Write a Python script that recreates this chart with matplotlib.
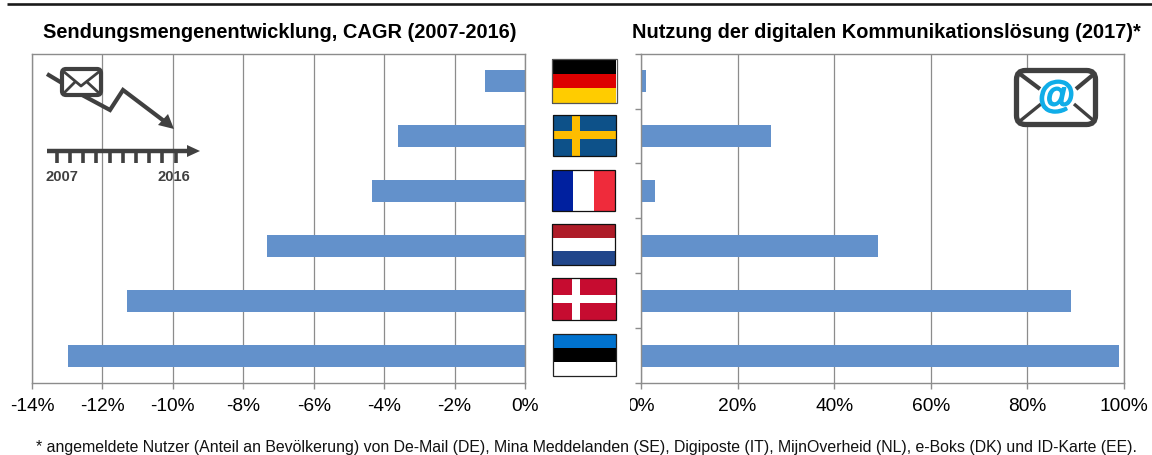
import matplotlib
matplotlib.use("Agg")
import matplotlib.pyplot as plt
import matplotlib.patheffects as pe
from matplotlib.patches import Rectangle, FancyBboxPatch, Polygon

plt.rcParams["font.family"] = ["Liberation Sans", "DejaVu Sans"]

# data
countries = ["DE", "SE", "FR", "NL", "DK", "EE"]
cagr = [-1.13, -3.6, -4.35, -7.33, -11.3, -12.97]
usage = [1, 27, 3, 49, 89, 99]
cagr_ticks = [-14, -12, -10, -8, -6, -4, -2, 0]
usage_ticks = [0, 20, 40, 60, 80, 100]

title_left = "Sendungsmengenentwicklung, CAGR (2007-2016)"
title_right = "Nutzung der digitalen Kommunikationslösung (2017)*"
footnote = ("* angemeldete Nutzer (Anteil an Bevölkerung) von De-Mail (DE), Mina Meddelanden (SE), "
            "Digiposte (IT), MijnOverheid (NL), e-Boks (DK) und ID-Karte (EE).")

W, H = 1152, 456
BAR = "#6391cb"
GRID = "#8c8c8c"
DARK = "#404040"

fig = plt.figure(figsize=(W / 100, H / 100), dpi=100)


def px_axes(x0, x1, y0, y1):
    return fig.add_axes([x0 / W, 1 - y1 / H, (x1 - x0) / W, (y1 - y0) / H])


def style(ax):
    for s in ax.spines.values():
        s.set_color(GRID)
        s.set_linewidth(1.0)
    ax.set_ylim(6, 0)
    ax.grid(axis="x", color=GRID, linewidth=0.9)
    ax.set_axisbelow(True)
    ax.tick_params(axis="x", length=4, width=1.0, color=GRID, labelsize=13.8, pad=6, labelcolor="black")


pos = [i + 0.5 for i in range(len(countries))]

left = px_axes(32, 525, 54.7, 384)
left.barh(pos, cagr, height=0.4, color=BAR)
left.set_xlim(-14, 0)
style(left)
left.set_xticks(cagr_ticks)
left.set_xticklabels([f"{v}%" for v in cagr_ticks])
left.set_yticks([])

right = px_axes(641, 1124, 54.7, 384)
right.barh(pos, usage, height=0.4, color=BAR)
right.set_xlim(0, 100)
style(right)
right.set_xticks(usage_ticks)
right.set_xticklabels([f"{v}%" for v in usage_ticks])
right.set_yticks(range(7))
right.set_yticklabels([])
right.tick_params(axis="y", length=4, width=1.0, color=GRID)

# overlay in pixel coordinates for titles, flags and icons
ov = fig.add_axes([0, 0, 1, 1], zorder=5)
ov.set_xlim(0, W)
ov.set_ylim(H, 0)
ov.axis("off")
ov.patch.set_alpha(0)

ov.plot([7, W], [5, 5], color="#1a1a1a", lw=1.9, solid_capstyle="butt")
ov.text(280, 32, title_left, ha="center", va="center", fontsize=14.4, fontweight="bold")
ov.text(886.5, 32, title_right, ha="center", va="center", fontsize=14.4, fontweight="bold")
ov.text(586, 447.5, footnote, ha="center", va="center", fontsize=11.42, color="#111111")

# the first label of the right axis is cut off on its left side
ov.add_patch(Rectangle((620, 393), 10, 24, fc="white", ec="none"))


def rect(x, y, w, h, c):
    ov.add_patch(Rectangle((x, y), w, h, fc=c, ec="none"))


def frame(x, y, w, h, c="#111111"):
    ov.add_patch(Rectangle((x, y), w, h, fc="none", ec=c, lw=0.9))


# Germany
rect(552, 60, 64, 45, "black")
rect(552, 75, 64, 14, "#dd0000")
rect(552, 89, 64, 14.5, "#ffcc00")
frame(551.5, 60, 65, 43.5, "#555555")
# Sweden
rect(552.5, 115.5, 63, 41, "#0d5189")
rect(572, 115.5, 8, 41, "#fdbd00")
rect(552.5, 132, 63, 8, "#fdbd00")
frame(552.5, 115.5, 63, 41)
# France
rect(551.5, 170.5, 21, 41, "#00209f")
rect(572.5, 170.5, 21, 41, "white")
rect(593.5, 170.5, 21, 41, "#ef2b3b")
frame(551.5, 170.5, 63, 41)
# Netherlands
rect(551.5, 224.5, 63, 14, "#ae1c28")
rect(551.5, 238.5, 63, 13, "white")
rect(551.5, 251.5, 63, 14, "#21468b")
frame(551.5, 224.5, 63, 41)
# Denmark
rect(551.5, 278.5, 64, 42, "#c60c30")
rect(571.5, 278.5, 8, 42, "white")
rect(551.5, 296, 64, 7.5, "white")
frame(551.5, 278.5, 64, 42)
# Estonia
rect(552.5, 334.5, 63, 14, "#0072ce")
rect(552.5, 348.5, 63, 14, "black")
rect(552.5, 362.5, 63, 14, "white")
frame(552.5, 334.5, 63, 42, "#222222")

# falling volume icon
ov.plot([47, 62], [75, 84], color=DARK, lw=3, solid_capstyle="butt")
ov.plot([84, 110, 123, 164], [97, 111, 91, 122], color=DARK, lw=3, solid_joinstyle="miter")
ov.add_patch(Polygon([[174, 130], [158, 126], [168, 115]], fc=DARK, ec="none"))
ov.add_patch(FancyBboxPatch((62, 70), 39, 26, boxstyle="round,pad=0,rounding_size=4",
                            fc="white", ec=DARK, lw=3))
ov.plot([63, 81, 100], [72, 87, 72], color=DARK, lw=2)
ov.plot([64, 75], [94, 83], color=DARK, lw=2)
ov.plot([99, 87], [94, 83], color=DARK, lw=2)

# timeline
ov.plot([47, 188], [152, 152], color=DARK, lw=3.2, solid_capstyle="butt")
ov.add_patch(Polygon([[200, 152], [187, 146], [187, 158]], fc=DARK, ec="none"))
for i in range(10):
    x = 56.7 + i * 13.2
    ov.plot([x, x], [152, 164], color=DARK, lw=2.6, solid_capstyle="butt")
ov.text(46, 177, "2007", ha="left", va="center", fontsize=10.6, fontweight="bold", color=DARK)
ov.text(157, 177, "2016", ha="left", va="center", fontsize=10.6, fontweight="bold", color=DARK)

# e-mail icon
ov.add_patch(FancyBboxPatch((1016.5, 71.5), 79, 54, boxstyle="round,pad=0,rounding_size=9",
                            fc="white", ec=DARK, lw=3.8))
ov.plot([1020, 1040], [75, 90], color=DARK, lw=3, solid_capstyle="butt")
ov.plot([1094, 1076], [75, 90], color=DARK, lw=3, solid_capstyle="butt")
ov.plot([1020, 1041], [122, 105], color=DARK, lw=2.4, solid_capstyle="butt")
ov.plot([1094, 1074], [122, 105], color=DARK, lw=2.4, solid_capstyle="butt")
ov.text(1056.5, 98, "@", ha="center", va="center", fontsize=27, fontweight="bold", color="#10ade8",
        path_effects=[pe.withStroke(linewidth=1.2, foreground="#10ade8")])

fig.savefig("out.png", dpi=100, facecolor="white")
